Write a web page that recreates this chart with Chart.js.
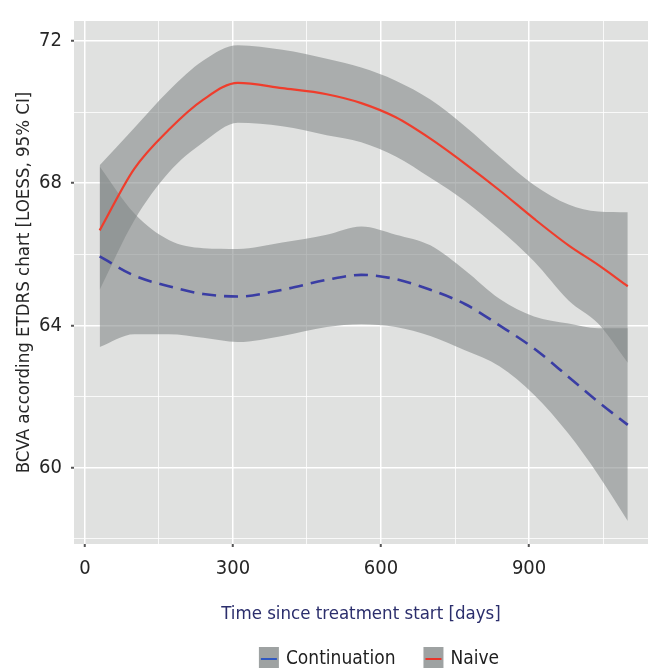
<!DOCTYPE html>
<html>
<head>
<meta charset="utf-8">
<script src="https://cdn.jsdelivr.net/npm/chart.js@4"></script>
<style>
  html, body { margin: 0; padding: 0; background: #fff; }
  canvas { display: block; }
</style>
</head>
<body>
<canvas id="chart" width="648" height="668"></canvas>
<script>
const days = [30, 100, 170, 240, 310, 400, 490, 560, 630, 700, 770, 840, 910, 980, 1040, 1100];

// Naive group
const naiveFit   = [66.67, 68.4, 69.5, 70.35, 70.82, 70.67, 70.5, 70.25, 69.85, 69.25, 68.55, 67.8, 67.0, 66.25, 65.7, 65.1];
const naiveUpper = [68.5, 69.55, 70.6, 71.45, 71.88, 71.75, 71.5, 71.25, 70.88, 70.35, 69.6, 68.75, 67.95, 67.4, 67.2, 67.18];
const naiveLower = [65.0, 66.95, 68.3, 69.15, 69.7, 69.6, 69.35, 69.15, 68.75, 68.15, 67.5, 66.7, 65.8, 64.7, 64.05, 62.95];

// Continuation group
const contFit   = [65.94, 65.4, 65.1, 64.88, 64.81, 65.0, 65.28, 65.42, 65.3, 65.0, 64.6, 64.0, 63.35, 62.55, 61.85, 61.2];
const contUpper = [68.47, 67.15, 66.4, 66.17, 66.15, 66.33, 66.55, 66.78, 66.55, 66.25, 65.55, 64.75, 64.25, 64.05, 63.92, 63.92];
const contLower = [63.39, 63.75, 63.75, 63.65, 63.53, 63.7, 63.95, 64.03, 63.95, 63.7, 63.3, 62.85, 62.05, 60.95, 59.8, 58.5];

// axis breaks
const xMajor = [0, 300, 600, 900];
const xMinor = [150, 450, 750, 1050];
const yMajor = [60, 64, 68, 72];
const yMinor = [58, 62, 66, 70];

const FONT = "'Liberation Sans Narrow', 'DejaVu Sans Condensed', 'Roboto Condensed', sans-serif";
const bandFill = "rgba(128, 133, 133, 0.57)";
const naiveColor = "#ef3d2c";
const contColor = "#3a3da4";

const pts = (arr) => days.map((d, i) => ({ x: d, y: arr[i] }));

const panelBg = {
  id: "panelBg",
  beforeDraw(chart) {
    const { ctx, chartArea: a } = chart;
    ctx.save();
    ctx.fillStyle = "#e0e1e0";
    ctx.fillRect(a.left, a.top, a.right - a.left, a.bottom - a.top);
    ctx.restore();
  },
};

// ggplot style legend: grey key with coloured line
const keyLegend = {
  id: "keyLegend",
  afterDraw(chart) {
    const { ctx } = chart;
    const items = [
      { label: chart.data.datasets[1].label, color: "#3058c0" },
      { label: chart.data.datasets[0].label, color: "#e8352b" },
    ];
    ctx.save();
    ctx.font = "19px " + FONT;
    ctx.textBaseline = "middle";
    const keyW = 20, gap = 7, between = 28;
    const widths = items.map((it) => ctx.measureText(it.label).width);
    const total = items.length * (keyW + gap) + widths.reduce((s, w) => s + w, 0) + between;
    let x = 379 - total / 2;
    const y = 659;
    items.forEach((it, i) => {
      ctx.fillStyle = "#9ea2a2";
      ctx.fillRect(x, y - 12, keyW, 24);
      ctx.strokeStyle = it.color;
      ctx.lineWidth = 2;
      ctx.beginPath();
      ctx.moveTo(x + 2, y);
      ctx.lineTo(x + keyW - 2, y);
      ctx.stroke();
      ctx.fillStyle = "#1e1e1e";
      ctx.fillText(it.label, x + keyW + gap, y);
      x += keyW + gap + widths[i] + between;
    });
    ctx.restore();
  },
};

const isMajor = (list, v) => list.includes(v);

new Chart(document.getElementById("chart").getContext("2d"), {
  type: "line",
  data: {
    datasets: [
      {
        label: "Naive",
        data: pts(naiveFit),
        borderColor: naiveColor,
        borderWidth: 2.2,
        pointRadius: 0,
        fill: false,
        order: 0,
      },
      {
        label: "Continuation",
        data: pts(contFit),
        borderColor: contColor,
        borderWidth: 2.6,
        borderDash: [14, 8],
        pointRadius: 0,
        fill: false,
        order: 0,
      },
      {
        label: "Naive lower",
        data: pts(naiveLower),
        borderWidth: 0,
        pointRadius: 0,
        fill: false,
        order: 1,
      },
      {
        label: "Naive upper",
        data: pts(naiveUpper),
        borderWidth: 0,
        pointRadius: 0,
        backgroundColor: bandFill,
        fill: "-1",
        order: 1,
      },
      {
        label: "Continuation lower",
        data: pts(contLower),
        borderWidth: 0,
        pointRadius: 0,
        fill: false,
        order: 2,
      },
      {
        label: "Continuation upper",
        data: pts(contUpper),
        borderWidth: 0,
        pointRadius: 0,
        backgroundColor: bandFill,
        fill: "-1",
        order: 2,
      },
    ],
  },
  options: {
    responsive: false,
    animation: false,
    devicePixelRatio: 1,
    layout: { padding: { top: 15, right: 0, bottom: 0, left: 0 } },
    elements: { line: { cubicInterpolationMode: "monotone" } },
    plugins: {
      legend: { display: false },
      tooltip: { enabled: false },
    },
    scales: {
      x: {
        type: "linear",
        min: -22,
        max: 1141,
        afterBuildTicks: (scale) => {
          scale.ticks = [...xMajor, ...xMinor].sort((a, b) => a - b).map((v) => ({ value: v }));
        },
        afterFit: (scale) => { scale.height = 124; },
        border: { display: false },
        grid: {
          color: "#ffffff",
          lineWidth: (c) => (isMajor(xMajor, c.tick.value) ? 1.5 : 0.8),
          tickColor: (c) => (isMajor(xMajor, c.tick.value) ? "#555" : "rgba(0,0,0,0)"),
          tickLength: 3,
          tickWidth: 2,
        },
        ticks: {
          autoSkip: false,
          maxRotation: 0,
          padding: 10,
          color: "#262626",
          font: { family: FONT, size: 20 },
          callback: (v) => (isMajor(xMajor, v) ? String(v) : ""),
        },
        title: {
          display: true,
          text: "Time since treatment start [days]",
          color: "#2b2e6c",
          font: { family: FONT, size: 18.5 },
          padding: { top: 0, bottom: 43 },
        },
      },
      y: {
        type: "linear",
        min: 57.85,
        max: 72.56,
        afterBuildTicks: (scale) => {
          scale.ticks = [...yMajor, ...yMinor].sort((a, b) => a - b).map((v) => ({ value: v }));
        },
        afterFit: (scale) => { scale.width = 74; },
        border: { display: false },
        grid: {
          color: "#ffffff",
          lineWidth: (c) => (isMajor(yMajor, c.tick.value) ? 1.5 : 0.8),
          tickColor: (c) => (isMajor(yMajor, c.tick.value) ? "#555" : "rgba(0,0,0,0)"),
          tickLength: 3,
          tickWidth: 2,
        },
        ticks: {
          autoSkip: false,
          padding: 9,
          color: "#262626",
          font: { family: FONT, size: 20 },
          callback: (v) => (isMajor(yMajor, v) ? String(v) : ""),
        },
        title: {
          display: true,
          text: "BCVA according ETDRS chart [LOESS, 95% CI]",
          color: "#262626",
          font: { family: FONT, size: 18.5 },
          padding: { top: 13, bottom: 0 },
        },
      },
    },
  },
  plugins: [panelBg, keyLegend],
});
</script>
</body>
</html>
